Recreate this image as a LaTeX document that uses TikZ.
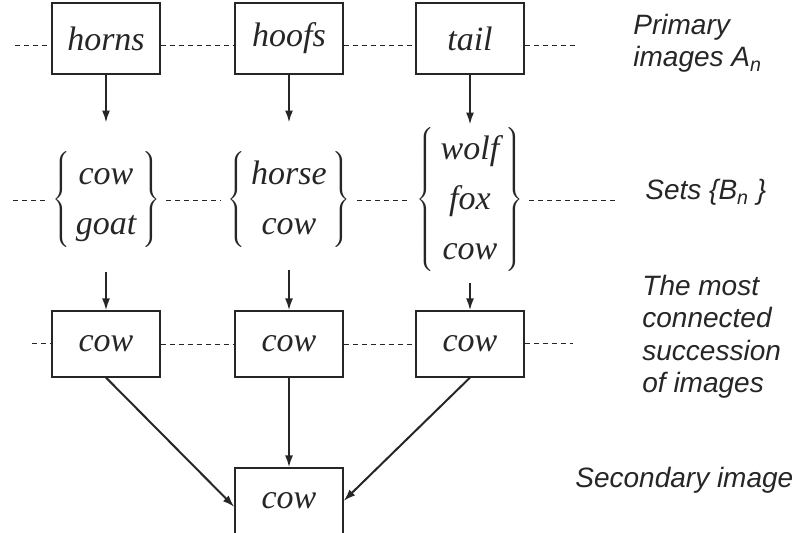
\documentclass[tikz,border=0pt]{standalone}
\usepackage{fontspec}
\setmainfont{Liberation Serif}
\newfontfamily\labelfont{Liberation Sans}
\usetikzlibrary{arrows.meta}
\newcommand\bset[1]{$\left\{\begin{tabular}{c}#1\end{tabular}\right\}$}
\tikzset{
    imgbox/.style={draw, line width=0.6pt, minimum width=54pt, minimum height=33pt, inner sep=0pt,
        font=\fontsize{17}{20}\selectfont\itshape},
    setnode/.style={inner sep=0pt, font=\fontsize{17}{20}\selectfont\itshape},
    sep/.style={dash pattern=on 2.5pt off 2pt, line width=0.4pt},
    link/.style={-{Latex[length=6pt,width=4pt]}, line width=1pt},
    lab/.style={font=\fontsize{14}{16.3}\selectfont\labelfont\itshape, align=left, inner sep=0pt}
}

\begin{document}
\begin{tikzpicture}[x=0.5pt, y=-0.5pt, black!85]
    \useasboundingbox (0,0) rectangle (796,533);
    \renewcommand\arraystretch{1.25}
    \setlength\tabcolsep{3pt}

    % Primary images
    \node[imgbox, minimum height=35.5pt] (horns) at (106,38.5) {horns};
    \node[imgbox, minimum height=35.5pt] (hoofs) at (289,38.5) {hoofs};
    \node[imgbox, minimum height=35.5pt] (tail)  at (470,38.5) {tail};

    % Sets of associated images
    \node[setnode] (sgoat)  at (106,200) {\bset{cow\\goat}};
    \node[setnode] (shorse) at (289,200) {\bset{horse\\cow}};
    \node[setnode] (sfox)   at (470,200) {\bset{wolf\\fox\\cow}};

    % Most connected succession
    \node[imgbox] (cowa) at (106,344) {cow};
    \node[imgbox] (cowb) at (289,344) {cow};
    \node[imgbox] (cowc) at (470,344) {cow};

    % Secondary image
    \node[imgbox] (cowsec) at (289,501) {cow};

    % Dashed rows
    \coordinate (ra) at (15,45);   \coordinate (rb) at (577,45);
    \coordinate (sa) at (13,200);  \coordinate (sb) at (618,200);
    \coordinate (ta) at (32,343);  \coordinate (tb) at (573,343);
    \draw[sep] (ra) -- (ra -| horns.west);
    \foreach \a/\b in {horns/hoofs, hoofs/tail}
        \draw[sep] ([yshift=-3.25pt]\a.east) -- ([yshift=-3.25pt]\b.west);
    \draw[sep] (tail.east |- rb) -- (rb);
    \draw[sep, shorten >=3pt] (sa) -- (sgoat);
    \foreach \a/\b in {sgoat/shorse, shorse/sfox}
        \draw[sep, shorten <=3pt, shorten >=3pt] (\a) -- (\b);
    \draw[sep, shorten <=3pt] (sfox) -- (sb);
    \draw[sep] (ta) -- (ta -| cowa.west);
    \foreach \a/\b in {cowa/cowb, cowb/cowc}
        \draw[sep] (\a) -- (\b);
    \draw[sep] (cowc.east |- tb) -- (tb);

    % Arrows
    \draw[link, shorten >=13.5pt] (horns) -- (sgoat);
    \draw[link, shorten >=13.5pt] (hoofs) -- (shorse);
    \draw[link] (tail) -- (sfox);
    \draw[link, shorten <=11pt] (sgoat) -- (cowa);
    \draw[link, shorten <=10pt] (shorse) -- (cowb);
    \draw[link, shorten <=4pt] (sfox) -- (cowc);
    \draw[link] (cowa.south) -- ([yshift=-3pt]cowsec.west);
    \draw[link] (cowb) -- (cowsec);
    \draw[link] (cowc.south) -- (cowsec.east);

    % Labels (base = last line)
    \node[lab, anchor=base west] (primary) at (633,67) {Primary\\images A\textsubscript{n}};
    \node[lab, anchor=base west] (sets) at (645,200) {Sets \{B\textsubscript{n} \}};
    \node[lab, anchor=base west] (succ) at (642,393) {The most\\connected\\succession\\of images};
    \node[lab, anchor=base west] (second) at (575,487) {Secondary image};
\end{tikzpicture}
\end{document}
